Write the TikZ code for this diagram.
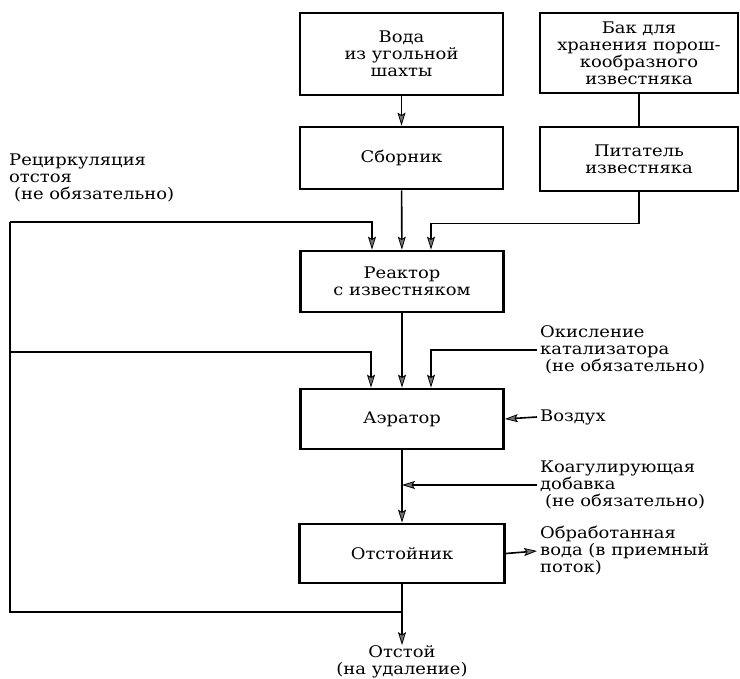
\documentclass[tikz,border=0pt]{standalone}
\usepackage{fontspec}
\setmainfont[FakeStretch=1.12]{DejaVu Serif}
\usetikzlibrary{arrows.meta}

\begin{document}
\begin{tikzpicture}[x=1pt, y=-1pt,
    >={Stealth[length=13pt, width=8pt, inset=2.5pt, fill=black!55, line width=0.8pt]}]
  \tikzstyle{every node}=[font=\fontsize{16}{17}\selectfont]
  \tikzstyle{box}=[draw, line width=2.8pt, minimum width=203pt, align=center, inner sep=0pt]
  \tikzstyle{lbl}=[align=left, inner sep=3pt, anchor=west]
  \tikzstyle{flow}=[line width=1.6pt]
  \useasboundingbox (0,0) rectangle (740,679);

  % units
  \node[box, minimum height=82pt] (voda) at (401.5,54) {Вода\\из угольной\\шахты};
  \node[box, minimum height=80pt, minimum width=198pt] (bak) at (639,53)
       {Бак для\\хранения порош-\\кообразного\\известняка};
  \node[box, minimum height=62pt] (sbornik) at (401.5,158) {Сборник};
  \node[box, minimum height=64pt, minimum width=198pt] (pitatel) at (639,159)
       {Питатель\\известняка};
  \node[box, minimum height=61pt] (reaktor) at (402,281.5) {Реактор\\с известняком};
  \node[box, minimum height=60pt] (aerator) at (402,419) {Аэратор};
  \node[box, minimum height=59pt, minimum width=205pt] (otstoinik) at (402,553.5) {Отстойник};

  % inlets on the tops of the reactor and the aerator
  \coordinate (r1) at ([xshift=-30pt]reaktor.north);
  \coordinate (r3) at ([xshift=29pt]reaktor.north);
  \coordinate (a1) at ([xshift=-31pt]aerator.north);
  \coordinate (a3) at ([xshift=29pt]aerator.north);

  % side streams
  \node[lbl] (recirc) at (6,178) {Рециркуляция\\отстоя\\\hspace*{5pt}(не обязательно)};
  \node[lbl] (okisl) at (537,350) {Окисление\\катализатора\\\hspace*{5pt}(не обязательно)};
  \node[lbl] (vozduh) at (537,417) {Воздух};
  \node[lbl] (koag) at (537,485) {Коагулирующая\\добавка\\\hspace*{5pt}(не обязательно)};
  \node[lbl] (obrab) at (537,551) {Обработанная\\вода (в приемный\\поток)};
  \node[align=center, inner sep=0pt, anchor=south] (otstoi) at (402,678) {Отстой\\(на удаление)};

  % sludge recycle loop
  \coordinate (lt) at (10,222);
  \coordinate (lm) at (10,352);
  \coordinate (lb) at (10,612);

  \draw[flow,->] (voda) -- (sbornik);
  \draw[flow] (bak) -- (pitatel);
  \draw[flow,->] (sbornik) -- (reaktor);
  \draw[flow,->] (pitatel.south) -- ++(0,31) -| (r3);
  \draw[flow,->] (lt) -| (r1);
  \draw[flow,->] (reaktor) -- (aerator);
  \draw[flow,->] (lm) -| (a1);
  \draw[flow,->] (okisl.west) -| (a3);
  \draw[flow,->] (vozduh.west) -- (aerator.east);
  \draw[flow,->] (koag.west) -- (koag.west -| aerator.south);
  \draw[flow,->] (aerator) -- (otstoinik);
  \draw[flow,->] (otstoinik.east) -- (obrab.west);
  \draw[flow,->] (otstoinik) -- (otstoi);
  \draw[flow] (lb -| otstoinik.south) -- (lb) -- (lt);
\end{tikzpicture}
\end{document}
